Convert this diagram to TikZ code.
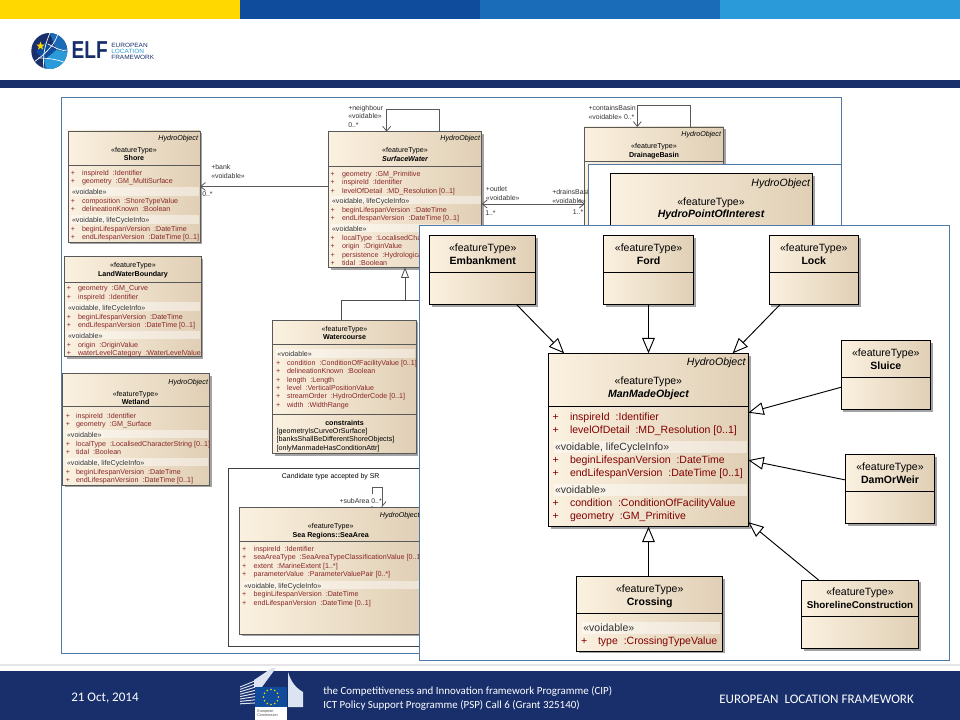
\documentclass[tikz,border=0pt]{standalone}
\usepackage{fontspec}
\setmainfont{Liberation Sans}
\newfontfamily\footerfont{Carlito}
\usetikzlibrary{arrows.meta, shadows, shapes.geometric}

\definecolor{elfyellow}{HTML}{FFD800}
\definecolor{elfblue}{HTML}{0F4C9C}
\definecolor{elfmid}{HTML}{1B6CB8}
\definecolor{elflight}{HTML}{2B9AD8}
\definecolor{elfnavy}{HTML}{182F6C}
\definecolor{framecolor}{HTML}{4F79A6}
\definecolor{umlcream}{HTML}{FBF1E0}
\definecolor{umltan}{HTML}{E0CFB5}
\colorlet{umledge}{black!65}
\colorlet{umlattr}{red!45!black!85}

\newcommand{\umlsize}{\fontsize{5.35}{6}\selectfont}
\newcommand{\umlband}{4.2}

\tikzset{
    umlbox/.style={draw=umledge, line width=0.6pt, inner sep=0pt, outer sep=0pt,
        left color=umlcream, middle color=umlcream, right color=umltan,
        drop shadow={shadow xshift=1.8pt, shadow yshift=-1.8pt, fill=black!60, opacity=0.6}},
    umlrule/.style={draw=umledge, line width=0.6pt},
    umltext/.style={font=\umlsize, inner sep=0pt, outer sep=0pt, text height=0.72em, text depth=0.2em},
    typetext/.style={umltext, anchor=center},
    nametext/.style={umltext, anchor=center, font=\umlsize\bfseries},
    absname/.style={umltext, anchor=center, font=\umlsize\bfseries\itshape},
    tagtext/.style={umltext, anchor=east, font=\umlsize\itshape},
    attrtext/.style={umltext, anchor=west, text=umlattr},
    plustext/.style={umltext, anchor=center, text=umlattr},
    headtext/.style={umltext, anchor=west, text=black!80},
    linklabel/.style={font=\fontsize{5.2}{6}\selectfont, inner sep=0pt, anchor=west, text height=0.72em, text depth=0.2em, text=black!80},
    logotext/.style={font=\fontsize{4.6}{5}\selectfont, inner sep=0pt, anchor=west, xscale=1.06},
    bandfill/.style={fill=white, fill opacity=0.45},
    assoc/.style={draw=black!65, line width=0.6pt, -{Straight Barb[length=3.6pt, width=6pt]}},
    assocboth/.style={draw=black!65, line width=0.6pt, {Straight Barb[length=3.6pt, width=6pt]}-{Straight Barb[length=3.6pt, width=6pt]}},
    gensmall/.style={draw=black!70, line width=0.6pt, -{Triangle[open, fill=white, length=8pt, width=6pt]}},
    genbig/.style={draw=black, line width=0.7pt, -{Triangle[open, fill=white, length=11.5pt, width=9.5pt]}},
    whiteframe/.style={draw=framecolor, line width=0.7pt, fill=white},
    footertext/.style={font=\footerfont\fontsize{8.2}{9}\selectfont, text=white, inner sep=0pt, anchor=west},
    footerlarge/.style={footertext, font=\footerfont\fontsize{9.8}{11}\selectfont},
}

% class box: name, left, top, right, bottom, y of the title rule
\newcommand{\umlclass}[6]{
    \node[umlbox, minimum width={(#4-#2)*0.75pt}, minimum height={(#5-#3)*0.75pt}] (#1) at ({(#2+#4)/2},{(#3+#5)/2}) {};
    \draw[umlrule] (#2,#6) -- (#4,#6);
}
% stereotype and class name: name, x, y of each line, text, style of the name
\newcommand{\umltitle}[6]{
    \node[typetext] (#1-type) at (#2,#3) {«featureType»};
    \node[#6] (#1-name) at (#2,#4) {#5};
}
% rows of attributes: prefix, x of plus, x of text, list of y/text
\newcommand{\attrrows}[4]{
    \foreach \rowy/\rowtext [count=\rowi] in {#4} {
        \node[plustext] (#1-p\rowi) at (#2,\rowy) {+};
        \node[attrtext] (#1-a\rowi) at (#3,\rowy) {\rowtext};
    }
}
% compartment heading with its light band: name, x, y, right end of band, text
\newcommand{\umlhead}[5]{
    \fill[bandfill] (#2-1,#3-\umlband) rectangle (#4,#3+\umlband);
    \node[headtext] (#1) at (#2,#3) {#5};
}

\begin{document}
\begin{tikzpicture}[x=0.75pt, y=-0.75pt, >=Stealth]
    \useasboundingbox (0,0) rectangle (960,720);

    % Top colour bars and navy band
    \fill[elfyellow] (0,0) rectangle (240,19);
    \fill[elfblue] (240,0) rectangle (480,19);
    \fill[elfmid] (480,0) rectangle (720,19);
    \fill[elflight] (720,0) rectangle (960,19);
    \fill[elfnavy] (0,80) rectangle (960,88);

    % Logo
    \begin{scope}
        \clip (49.3,51) circle[radius=18];
        \fill[elfnavy] (31,33) rectangle (68,69);
        \fill[elfmid] (50,33) -- (68,33) -- (68,52) -- (56,50) -- cycle;
        \fill[elflight] (56,50) -- (68,52) -- (68,69) -- (46,69) -- (44,60) -- cycle;
        \fill[elfblue] (46,42) -- (56,50) -- (44,60) -- (36,52) -- cycle;
        \draw[white, line width=0.5pt] (34,62) .. controls (44,55) and (56,44) .. (58,33);
        \draw[white, line width=0.5pt] (44,69) .. controls (42,55) and (46,42) .. (50,33);
        \draw[white, line width=0.5pt] (38,58) .. controls (50,58) and (60,60) .. (68,64);
        \draw[white, line width=0.5pt] (48,44) .. controls (56,48) and (62,52) .. (68,50);
    \end{scope}
    \node[star, star points=5, star point ratio=2.4, fill=elfyellow, inner sep=0pt, minimum size=6.5pt] (logo-star) at (40.5,46) {};
    \node[font=\fontsize{18.4}{20}\selectfont\bfseries, text=elfnavy, inner sep=0pt, anchor=west, xscale=0.78] (logo-elf) at (71.5,50.5) {ELF};
    \node[logotext, text=elfnavy] (logo-a) at (111,45) {EUROPEAN};
    \node[logotext, text=elflight] (logo-b) at (111,51.3) {LOCATION};
    \node[logotext, text=elfnavy] (logo-c) at (111,57.7) {FRAMEWORK};

    % Faint line above the footer and outer frame
    \draw[black!10, line width=0.8pt] (0,665) -- (960,665);
    \draw[whiteframe] (61.5,97.7) rectangle (841.5,653.3);

    % Shore
    \umlclass{shore}{68}{131}{200}{242}{165}
    \node[tagtext] (shore-tag) at (198,137) {HydroObject};
    \umltitle{shore}{134}{149}{157.5}{Shore}{nametext}
    \attrrows{shore-x}{73}{82}{172/{inspireId ~:Identifier}, 180.5/{geometry ~:GM\_MultiSurface}}
    \umlhead{shore-h1}{72}{191.5}{199}{«voidable»}
    \attrrows{shore-y}{73}{82}{199.7/{composition ~:ShoreTypeValue}, 208.3/{delineationKnown ~:Boolean}}
    \umlhead{shore-h2}{72}{219.5}{199}{«voidable, lifeCycleInfo»}
    \attrrows{shore-z}{73}{82}{228/{beginLifespanVersion ~:DateTime}, 236.5/{endLifespanVersion ~:DateTime [0..1]}}

    % LandWaterBoundary
    \umlclass{land}{64.7}{256.7}{201}{356.7}{282}
    \umltitle{land}{133}{264.5}{273}{LandWaterBoundary}{nametext}
    \attrrows{land-x}{69}{78}{287.5/{geometry ~:GM\_Curve}, 296/{inspireId ~:Identifier}}
    \umlhead{land-h1}{68}{306.7}{200}{«voidable, lifeCycleInfo»}
    \attrrows{land-y}{69}{78}{315.7/{beginLifespanVersion ~:DateTime}, 324.3/{endLifespanVersion ~:DateTime [0..1]}}
    \umlhead{land-h2}{68}{335}{200}{«voidable»}
    \attrrows{land-z}{69}{78}{343.7/{origin ~:OriginValue}, 352/{waterLevelCategory ~:WaterLevelValue}}

    % Wetland
    \umlclass{wetland}{62.7}{373.3}{209.5}{485}{406.7}
    \node[tagtext] (wetland-tag) at (208,380.7) {HydroObject};
    \umltitle{wetland}{135.6}{393}{400.7}{Wetland}{nametext}
    \attrrows{wetland-x}{68}{76}{414.7/{inspireId ~:Identifier}, 423.3/{geometry ~:GM\_Surface}}
    \umlhead{wetland-h1}{67}{434}{208}{«voidable»}
    \attrrows{wetland-y}{68}{76}{442.7/{localType ~:LocalisedCharacterString [0..1]}, 451.3/{tidal ~:Boolean}}
    \umlhead{wetland-h2}{67}{462}{208}{«voidable, lifeCycleInfo»}
    \attrrows{wetland-z}{68}{76}{470.7/{beginLifespanVersion ~:DateTime}, 479.3/{endLifespanVersion ~:DateTime [0..1]}}

    % SurfaceWater
    \umlclass{surface}{328.3}{131.7}{481.7}{267.3}{166}
    \node[tagtext] (surface-tag) at (480,137.3) {HydroObject};
    \umltitle{surface}{405}{149.3}{157.7}{SurfaceWater}{absname}
    \attrrows{surface-x}{332.7}{342}{172.7/{geometry ~:GM\_Primitive}, 181/{inspireId ~:Identifier}, 189.7/{levelOfDetail ~:MD\_Resolution [0..1]}}
    \umlhead{surface-h1}{332}{200.3}{481}{«voidable, lifeCycleInfo»}
    \attrrows{surface-y}{332.7}{342}{209/{beginLifespanVersion ~:DateTime}, 217.3/{endLifespanVersion ~:DateTime [0..1]}}
    \umlhead{surface-h2}{332}{228.3}{481}{«voidable»}
    \attrrows{surface-z}{332.7}{342}{237/{localType ~:LocalisedCharacterString [0..1]}, 245.3/{origin ~:OriginValue}, 253.7/{persistence ~:HydrologicalPersistenceValue}, 262/{tidal ~:Boolean}}

    % Watercourse
    \umlclass{watercourse}{272.7}{320}{416}{453.7}{344.3}
    \umltitle{watercourse}{344.5}{328.3}{336.3}{Watercourse}{nametext}
    \umlhead{watercourse-h1}{277.3}{353.3}{415}{«voidable»}
    \attrrows{watercourse-x}{278.3}{287}{361.7/{condition ~:ConditionOfFacilityValue [0..1]}, 370.3/{delineationKnown ~:Boolean}, 378.7/{length ~:Length}, 387/{level ~:VerticalPositionValue}, 395.3/{streamOrder ~:HydroOrderCode [0..1]}, 404/{width ~:WidthRange}}
    \draw[umlrule] (watercourse.west |- 0,414) -- (watercourse.east |- 0,414);
    \node[nametext] (watercourse-con) at (344.5,421.7) {constraints};
    \node[umltext, anchor=west] (watercourse-c1) at (276.7,429.7) {[geometryIsCurveOrSurface]};
    \node[umltext, anchor=west] (watercourse-c2) at (276.7,438.3) {[banksShallBeDifferentShoreObjects]};
    \node[umltext, anchor=west] (watercourse-c3) at (276.7,446.7) {[onlyManmadeHasConditionAttr]};

    % Candidate boundary with SeaArea
    \draw[black!75, line width=0.6pt] (228.3,468.7) rectangle (440,646);
    \node[typetext, font=\fontsize{5.2}{6}\selectfont] (candidate) at (330.7,475.3) {Candidate type accepted by SR};
    \umlclass{seaarea}{239.7}{507}{421.7}{634}{541.3}
    \node[tagtext] (seaarea-tag) at (419.5,513.7) {HydroObject};
    \umltitle{seaarea}{330.7}{525}{533.7}{Sea Regions::SeaArea}{nametext}
    \attrrows{seaarea-x}{244.3}{253.7}{548/{inspireId ~:Identifier}, 556.3/{seaAreaType ~:SeaAreaTypeClassificationValue [0..1]}, 565/{extent ~:MarineExtent [1..*]}, 573.3/{parameterValue ~:ParameterValuePair [0..*]}}
    \umlhead{seaarea-h1}{244}{585}{421}{«voidable, lifeCycleInfo»}
    \attrrows{seaarea-y}{244.3}{253.7}{593.3/{beginLifespanVersion ~:DateTime}, 601.7/{endLifespanVersion ~:DateTime [0..1]}}
    \coordinate (sub-a) at (382,487);
    \coordinate (sub-b) at (372,487);
    \draw[assocboth] (sub-a |- seaarea.north) -- (sub-a) -- (sub-b) -- (sub-b |- seaarea.north);
    \node[linklabel, fill=white] (sub-role) at (339.3,500) {+subArea 0..*};

    % DrainageBasin
    \umlclass{drainage}{584.7}{127}{723.3}{281}{161}
    \node[tagtext] (drainage-tag) at (721,133) {HydroObject};
    \umltitle{drainage}{654}{145.3}{153.7}{DrainageBasin}{nametext}

    % Associations
    \draw[assoc] (shore -| surface.west) -- (shore.east);
    \node[linklabel] (bank-role) at (211,166) {+bank};
    \node[linklabel] (bank-st) at (211,175) {«voidable»};
    \node[linklabel] (bank-mult) at (202,193) {0..*};

    \coordinate (nb-a) at (439.3,109.3);
    \coordinate (nb-b) at (386.7,109.3);
    \draw[assoc] (nb-a |- surface.north) -- (nb-a) -- (nb-b) -- (nb-b |- surface.north);
    \node[linklabel] (nb-role) at (348,107) {+neighbour};
    \node[linklabel] (nb-st) at (348,115.3) {«voidable»};
    \node[linklabel] (nb-mult) at (348,124) {0..*};

    \draw[assocboth] (drainage -| surface.east) -- (drainage.west);
    \node[linklabel] (outlet-role) at (485.7,188) {+outlet};
    \node[linklabel] (outlet-st) at (485.7,196.7) {«voidable»};
    \node[linklabel] (outlet-mult) at (485,211.7) {1..*};
    \node[linklabel] (drains-role) at (552,191.3) {+drainsBasin};
    \node[linklabel] (drains-st) at (552,200) {«voidable»};
    \node[linklabel] (drains-mult) at (572.7,211.3) {1..*};

    \coordinate (cb-a) at (690.7,105.3);
    \coordinate (cb-b) at (637.3,105.3);
    \draw[assoc] (cb-a |- drainage.north) -- (cb-a) -- (cb-b) -- (cb-b |- drainage.north);
    \node[linklabel] (cb-role) at (588.3,107.3) {+containsBasin};
    \node[linklabel] (cb-st) at (588.3,115.7) {«voidable» 0..*};

    % Generalisation into SurfaceWater
    \coordinate (wc-bend) at (341.7,300);
    \coordinate (gen-bend) at (405,300);
    \coordinate (gen-right) at (425,300);
    \draw[gensmall] (wc-bend |- watercourse.north) -- (wc-bend) -- (gen-bend) -- (surface.south);
    \draw[draw=black!70, line width=0.6pt] (gen-bend) -- (gen-right);

    % HydroPointOfInterest panel
    \renewcommand{\umlsize}{\fontsize{7.9}{9}\selectfont}
    \renewcommand{\umlband}{6.2}
    \colorlet{umledge}{black}
    \colorlet{umlattr}{red!50!black}
    \draw[whiteframe] (588.7,164.7) rectangle (841.5,260);
    \umlclass{poi}{610.3}{173.7}{812.7}{260}{255}
    \node[tagtext] (poi-tag) at (810,182.7) {HydroObject};
    \umltitle{poi}{711}{201.7}{213.7}{HydroPointOfInterest}{absname}

    % ManMadeObject panel
    \draw[whiteframe] (419,225) rectangle (949,660);
    \umlclass{embankment}{429.7}{235.3}{535.7}{304.3}{272.3}
    \umltitle{embankment}{482.7}{247.7}{260.7}{Embankment}{nametext}
    \umlclass{ford}{603.7}{235.3}{693.5}{304.3}{272.3}
    \umltitle{ford}{648.6}{247.7}{260.7}{Ford}{nametext}
    \umlclass{lock}{769}{235.3}{858.7}{304.3}{272.3}
    \umltitle{lock}{813.8}{247.7}{260.7}{Lock}{nametext}
    \umlclass{sluice}{841}{340.7}{930.7}{409.3}{377.3}
    \umltitle{sluice}{885.8}{353}{365.7}{Sluice}{nametext}
    \umlclass{damorweir}{845.7}{454.7}{934.3}{523.3}{491.3}
    \umltitle{damorweir}{890}{467}{479.7}{DamOrWeir}{nametext}
    \umlclass{shoreline}{801.7}{580}{918.3}{648.3}{616.3}
    \umltitle{shoreline}{860}{592}{604.7}{\fontsize{7.4}{9}\selectfont ShorelineConstruction}{nametext}

    \umlclass{crossing}{576.7}{576.7}{722.7}{651}{613.7}
    \umltitle{crossing}{649.7}{589}{601.7}{Crossing}{nametext}
    \umlhead{crossing-h1}{583.3}{628}{720}{«voidable»}
    \attrrows{crossing-x}{584.3}{598}{641/{type ~:CrossingTypeValue}}

    \umlclass{manmade}{548.7}{353.3}{748.3}{526.7}{406}
    \node[tagtext] (manmade-tag) at (745.5,362) {HydroObject};
    \umltitle{manmade}{648.4}{381}{394}{ManMadeObject}{absname}
    \attrrows{manmade-x}{555.7}{570}{416.7/{inspireId ~:Identifier}, 429.7/{levelOfDetail ~:MD\_Resolution [0..1]}}
    \umlhead{manmade-h1}{555}{447}{747}{«voidable, lifeCycleInfo»}
    \attrrows{manmade-y}{555.7}{570}{460/{beginLifespanVersion ~:DateTime}, 472.7/{endLifespanVersion ~:DateTime [0..1]}}
    \umlhead{manmade-h2}{555}{490}{747}{«voidable»}
    \attrrows{manmade-z}{555.7}{570}{502.7/{condition ~:ConditionOfFacilityValue}, 515.7/{geometry ~:GM\_Primitive}}

    % Generalisations into ManMadeObject
    \draw[genbig] (embankment) -- (manmade);
    \draw[genbig] (manmade.north |- ford.south) -- (manmade.north);
    \draw[genbig] (lock) -- (manmade);
    \draw[genbig] (sluice) -- (manmade);
    \draw[genbig] (damorweir) -- (manmade);
    \draw[genbig] (shoreline) -- (manmade);
    \draw[genbig] (manmade.south |- crossing.north) -- (manmade.south);

    % Footer
    \fill[elfnavy] (0,671) rectangle (960,720);
    \node[footerlarge] (foot-date) at (71,698) {21 Oct, 2014};
    % Commission emblem
    \foreach \k in {0,...,7} {
        \fill[white!85!elfblue] (240,{686.5+2.4*\k}) -- (256,{680+3.2*\k}) -- (256,{681+3.2*\k}) -- (240,{687.5+2.4*\k}) -- cycle;
    }
    \fill[white!85!elfblue] (254,680) -- (272,668) -- (276,668) -- (262,687) -- (254,687) -- cycle;
    \fill[white!85!elfblue] (288,672) .. controls (291,682) and (296,688) .. (303,692) -- (303,707) -- (288,707) -- cycle;
    \fill[elfblue] (255,687) rectangle (287,707);
    \foreach \k in {0,30,...,330} {
        \fill[elfyellow] ({271+7.5*cos(\k)},{697+7.5*sin(\k)}) circle[radius=0.8];
    }
    \fill[white] (255,707) rectangle (287,720);
    \node[font=\fontsize{2.8}{3.2}\selectfont, text=black!70, inner sep=0pt, align=left, anchor=west] (foot-ec) at (257,713.5) {European\\Commission};
    \node[footertext] (foot-a) at (323,691) {the Competitiveness and Innovation framework Programme (CIP)};
    \node[footertext] (foot-b) at (323,705) {ICT Policy Support Programme (PSP) Call 6 (Grant 325140)};
    \node[footerlarge] (foot-c) at (719,699) {EUROPEAN\ \ LOCATION FRAMEWORK};
\end{tikzpicture}
\end{document}
